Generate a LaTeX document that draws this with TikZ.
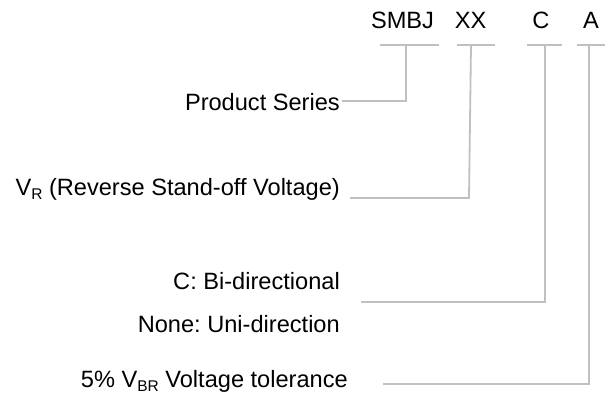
\documentclass[tikz,border=0pt]{standalone}
\usepackage{fontspec}
\setmainfont{Liberation Sans}
\frenchspacing
\definecolor{linegray}{RGB}{192,192,192}
\newcommand{\subtxt}[1]{\raisebox{-0.2em}{\fontsize{15.5}{15.5}\selectfont #1}}
\begin{document}
\begin{tikzpicture}[x=1pt,y=-1pt,
  lbl/.style={inner sep=0pt,font=\fontsize{23.6}{28}\selectfont\frenchspacing,text=black},
  rlbl/.style={lbl,anchor=base east},
  toplbl/.style={lbl,anchor=base},
  conn/.style={draw=linegray,line width=1.8pt}]
\useasboundingbox (0,0) rectangle (605,405);
% top code letters
\node[toplbl] (smbj) at (402.5,28) {SMBJ};
\node[toplbl] (xx) at (470.5,28) {XX};
\node[toplbl] (c) at (541,28) {C};
\node[toplbl] (a) at (591,28) {A};
% left descriptions
\node[rlbl] (ps) at (340,110) {Product Series};
\node[rlbl] (vr) at (340,195) {V\subtxt{R} (Reverse Stand-off Voltage)};
\node[rlbl] (bi) at (340,289) {C: Bi-directional};
\node[rlbl] (uni) at (340,332) {None: Uni-direction};
\node[rlbl] (tol) at (348,387) {5\% V\subtxt{BR} Voltage tolerance};
% bars under codes
\coordinate (b1l) at (380,45); \coordinate (b1r) at (439,45);
\coordinate (b2l) at (457,45); \coordinate (b2r) at (495,45);
\coordinate (b3l) at (527,45); \coordinate (b3r) at (562,45);
\coordinate (b4l) at (577,45); \coordinate (b4r) at (605,45);
\draw[conn] (b1l) -- (b1r);
\draw[conn] (b2l) -- (b2r);
\draw[conn] (b3l) -- (b3r);
\draw[conn] (b4l) -- (b4r);
% connectors
\coordinate (t1) at (406,45); \coordinate (k1) at (406,101); \coordinate (s1) at (342,101);
\coordinate (t2) at (471,45); \coordinate (k2) at (469,198); \coordinate (s2) at (350,198);
\coordinate (t3) at (545,45); \coordinate (k3) at (545,302); \coordinate (s3) at (361,302);
\coordinate (t4) at (589,45); \coordinate (k4) at (589,384); \coordinate (s4) at (383,384);
\draw[conn] (t1) -- (k1) -- (s1);
\draw[conn] (t2) -- (k2) -- (s2);
\draw[conn] (t3) -- (k3) -- (s3);
\draw[conn] (t4) -- (k4) -- (s4);
\end{tikzpicture}
\end{document}
